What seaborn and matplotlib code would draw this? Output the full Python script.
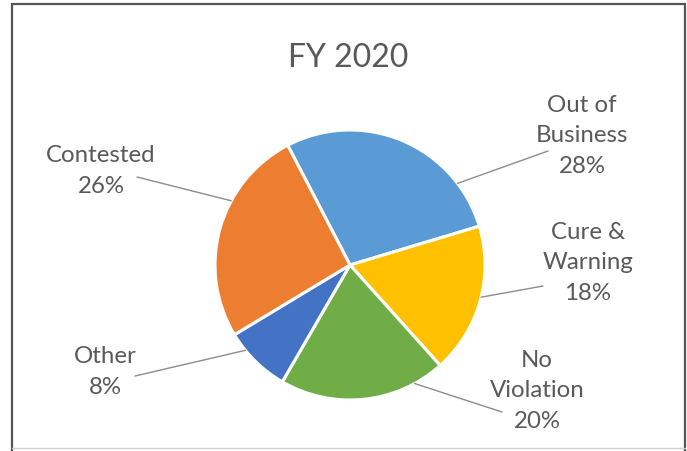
import matplotlib
matplotlib.use("Agg")
import matplotlib.pyplot as plt
import seaborn as sns
import numpy as np
from matplotlib.lines import Line2D

# ---- data ----
categories = ["Out of Business", "Cure & Warning", "No Violation", "Other", "Contested"]
label_text = ["Out of\nBusiness", "Cure &\nWarning", "No\nViolation", "Other", "Contested"]
values = [28, 18, 20, 8, 26]
title = "FY 2020"

colors = sns.color_palette(["#5B9BD5", "#FFC000", "#70AD47", "#4472C4", "#ED7D31"])

sns.set_theme(style="white")
plt.rcParams["font.family"] = ["Lato", "DejaVu Sans"]

W, H = 687, 452
CX, CY, R = 350, 266, 135  # pie centre / radius in pixels

fig = plt.figure(figsize=(W / 100, H / 100), dpi=100)
fig.patch.set_facecolor("white")
ax = fig.add_axes([0, 0, 1, 1])

ax.pie(values, colors=colors, startangle=117.5, counterclock=False,
       wedgeprops=dict(edgecolor="white", linewidth=2.2))
ax.set_aspect("auto")
ax.set_xlim(-CX / R, (W - CX) / R)
ax.set_ylim(-(H - CY) / R, CY / R)
ax.axis("off")


def p2d(x, y):
    return ((x - CX) / R, (CY - y) / R)


# label layout (pixel positions)
label_pos = [(582, 136), (588, 263), (537, 391), (105, 372), (101, 171)]
line_start = [(548, 152), (543, 287), (502, 413), (135, 377), (137, 178)]
attach_deg = [52.8, 103.8, 151.4, 230.8, 298.4]  # clockwise from 12 o'clock

txt_color = "#595959"
for lab, v, lp, ls, a in zip(label_text, values, label_pos, line_start, attach_deg):
    th = np.deg2rad(90 - a)
    ax.annotate("", xy=(np.cos(th), np.sin(th)), xytext=p2d(*ls),
                arrowprops=dict(arrowstyle="-", color="#8c8c8c", lw=1.0,
                                shrinkA=0, shrinkB=0))
    ax.text(*p2d(*lp), f"{lab}\n{v}%", ha="center", va="center",
            fontsize=17.3, color=txt_color, linespacing=1.55)

ax.text(*p2d(348, 58), title, ha="center", va="center", fontsize=23, color=txt_color)

# chart frame
def fx(x):
    return x / W

def fy(y):
    return 1 - y / H

frame_dark = "#555555"
fig.add_artist(Line2D([fx(12), fx(12)], [fy(5), fy(452)], color=frame_dark, lw=1.6))
fig.add_artist(Line2D([fx(12), fx(685)], [fy(5), fy(5)], color=frame_dark, lw=1.6))
fig.add_artist(Line2D([fx(685), fx(685)], [fy(5), fy(452)], color=frame_dark, lw=1.6))
fig.add_artist(Line2D([fx(12), fx(685)], [fy(449), fy(449)], color="#d0d0d0", lw=1.0))

fig.savefig("out.png", dpi=100, facecolor="white")
